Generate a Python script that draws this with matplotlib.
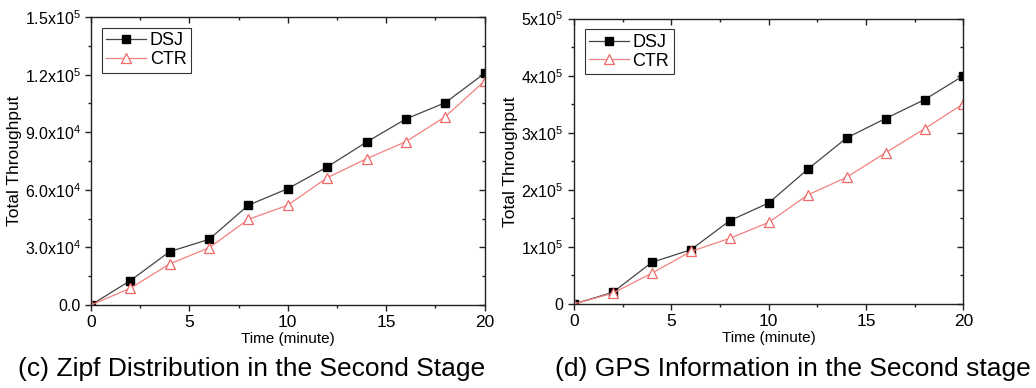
import matplotlib.pyplot as plt
from matplotlib.ticker import MultipleLocator, FixedLocator, FixedFormatter

plt.rcParams['font.family'] = ['Liberation Sans', 'DejaVu Sans']
plt.rcParams['mathtext.default'] = 'regular'

time = [0, 2, 4, 6, 8, 10, 12, 14, 16, 18, 20]
# (c) Zipf distribution
zipf_dsj = [0, 1.27e4, 2.78e4, 3.42e4, 5.2e4, 6.06e4, 7.19e4, 8.49e4, 9.69e4, 1.054e5, 1.207e5]
zipf_ctr = [0, 0.87e4, 2.14e4, 2.98e4, 4.46e4, 5.2e4, 6.63e4, 7.62e4, 8.51e4, 9.81e4, 1.167e5]
zipf_ticks = [0, 3e4, 6e4, 9e4, 1.2e5, 1.5e5]
zipf_labels = ['0.0', '3.0x10$^4$', '6.0x10$^4$', '9.0x10$^4$', '1.2x10$^5$', '1.5x10$^5$']
# (d) GPS information
gps_dsj = [0, 0.205e5, 0.73e5, 0.95e5, 1.46e5, 1.77e5, 2.36e5, 2.91e5, 3.25e5, 3.58e5, 4.0e5]
gps_ctr = [0, 0.19e5, 0.54e5, 0.92e5, 1.15e5, 1.43e5, 1.91e5, 2.22e5, 2.65e5, 3.07e5, 3.51e5]
gps_ticks = [0, 1e5, 2e5, 3e5, 4e5, 5e5]
gps_labels = ['0', '1x10$^5$', '2x10$^5$', '3x10$^5$', '4x10$^5$', '5x10$^5$']

captions = ['(c) Zipf Distribution in the Second Stage', '(d) GPS Information in the Second stage']

fig = plt.figure(figsize=(10.36, 3.88), dpi=100)
ax1 = fig.add_axes([0.0878, 0.214, 0.380, 0.742])
ax2 = fig.add_axes([0.554, 0.2165, 0.376, 0.7355])

panels = [(ax1, zipf_dsj, zipf_ctr, zipf_ticks, zipf_labels, 1.5e5),
          (ax2, gps_dsj, gps_ctr, gps_ticks, gps_labels, 5e5)]

for ax, dsj, ctr, yt, yl, ymax in panels:
    ax.plot(time, dsj, color='#444444', lw=0.9, marker='s', ms=5.5,
            mfc='black', mec='black', label='DSJ')
    ax.plot(time, ctr, color='#f48080', lw=0.9, marker='^', ms=7,
            mfc='white', mec='#f06868', mew=0.9, label='CTR')
    ax.set_xlim(0, 20)
    ax.set_ylim(0, ymax)
    ax.xaxis.set_major_locator(MultipleLocator(5))
    ax.xaxis.set_minor_locator(MultipleLocator(2.5))
    ax.yaxis.set_major_locator(FixedLocator(yt))
    ax.yaxis.set_major_formatter(FixedFormatter(yl))
    ax.yaxis.set_minor_locator(MultipleLocator(yt[1] / 2))
    for s in ax.spines.values():
        s.set_linewidth(1.0)
        s.set_color('#222222')
    ax.tick_params(which='both', direction='out', top=False, right=False,
                   labelsize=11.5, width=1.0, color='#222222')
    ax.tick_params(axis='x', labelsize=12.5)
    ax.tick_params(which='major', length=4)
    ax.tick_params(which='minor', length=2.5)
    # mirror ticks inward on top and right
    ax_t = ax.secondary_xaxis('top')
    ax_t.xaxis.set_major_locator(MultipleLocator(5))
    ax_t.xaxis.set_minor_locator(MultipleLocator(2.5))
    ax_t.tick_params(which='both', direction='in', labeltop=False, width=1.0, color='#222222')
    ax_t.tick_params(which='major', length=4)
    ax_t.tick_params(which='minor', length=2.5)
    ax_r = ax.secondary_yaxis('right')
    ax_r.yaxis.set_major_locator(FixedLocator(yt))
    ax_r.yaxis.set_minor_locator(MultipleLocator(yt[1] / 2))
    ax_r.tick_params(which='both', direction='in', labelright=False, width=1.0, color='#222222')
    ax_r.tick_params(which='major', length=4)
    ax_r.tick_params(which='minor', length=2.5)
    ax_t.spines['top'].set_visible(False)
    ax_r.spines['right'].set_visible(False)
    ax.set_xlabel('Time (minute)', fontsize=11, labelpad=1,
                  family=['Liberation Sans Narrow', 'Liberation Sans'])
    ax.set_ylabel('Total Throughput', fontsize=12.5, labelpad=2)
    leg = ax.legend(loc='upper left', fontsize=13, frameon=True, fancybox=False,
                    borderpad=0.25, labelspacing=0.1, handlelength=2.2,
                    handletextpad=0.2, borderaxespad=0.6)
    leg.get_frame().set_edgecolor('black')
    leg.get_frame().set_linewidth(0.8)

fig.text(0.243, 0.05, captions[0], fontsize=19, ha='center', va='center')
fig.text(0.7655, 0.05, captions[1], fontsize=19, ha='center', va='center')

plt.savefig('out.png', dpi=100)
